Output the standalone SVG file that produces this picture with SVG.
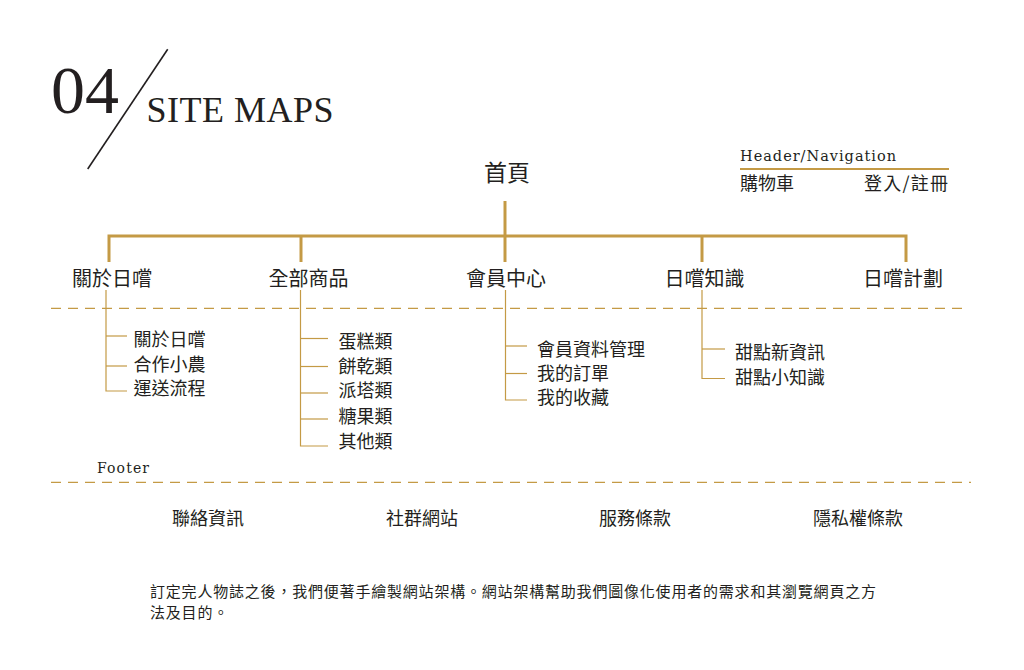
<svg xmlns="http://www.w3.org/2000/svg" width="1024" height="670" viewBox="0 0 1024 670">
<style>
.serif{font-family:"Liberation Serif","Times New Roman",serif;fill:#231f20}
.serif2{font-family:"DejaVu Serif","Liberation Serif",serif;fill:#231f20}
.cjk{font-family:"Noto Sans CJK TC","Noto Sans CJK SC",sans-serif;fill:#231f20}
.l1{font-size:20px;text-anchor:middle}
.l2{font-size:18px}
.thick{stroke:#c49a45;stroke-width:3;fill:none}
.thin{stroke:#c49a45;stroke-width:1.2;fill:none}
.dash{stroke:#c49a45;stroke-width:1.2;stroke-dasharray:10 7;fill:none}
</style>
<rect width="1024" height="670" fill="#ffffff"/>
<g id="title">
<text class="serif" x="51" y="113" font-size="68">04</text>
<line x1="167.7" y1="49.3" x2="87.7" y2="169" stroke="#231f20" stroke-width="1.6"/>
<text class="serif" x="146.5" y="121.5" font-size="36" letter-spacing="0.5">SITE MAPS</text>
</g>
<g id="header-nav">
<text class="serif2" x="740" y="160.5" font-size="14.5" textLength="156" lengthAdjust="spacing">Header/Navigation</text>
<line x1="740" y1="169" x2="949" y2="169" stroke="#c49a45" stroke-width="2"/>
<text class="cjk" x="740" y="189.5" font-size="18">購物車</text>
<text class="cjk" x="864" y="189.5" font-size="18" textLength="84" lengthAdjust="spacing">登入/註冊</text>
</g>
<g id="connectors">
<line class="thick" x1="505" y1="201" x2="505" y2="236"/>
<polyline class="thick" points="109,262 109,236 906,236 906,262"/>
<line class="thick" x1="301" y1="236" x2="301" y2="262"/>
<line class="thick" x1="505" y1="236" x2="505" y2="262"/>
<line class="thick" x1="702" y1="236" x2="702" y2="262"/>
<line class="dash" x1="51" y1="308.3" x2="962" y2="308.3"/>
<line class="dash" x1="51" y1="482.3" x2="971" y2="482.3"/>
<polyline class="thin" points="106,290 106,391 127,391"/>
<line class="thin" x1="106" y1="336" x2="127" y2="336"/>
<line class="thin" x1="106" y1="366" x2="127" y2="366"/>
<polyline class="thin" points="300.5,290 300.5,446 328,446"/>
<line class="thin" x1="300.5" y1="338.5" x2="328" y2="338.5"/>
<line class="thin" x1="300.5" y1="366.5" x2="328" y2="366.5"/>
<line class="thin" x1="300.5" y1="393" x2="328" y2="393"/>
<line class="thin" x1="300.5" y1="419" x2="328" y2="419"/>
<polyline class="thin" points="505.5,290 505.5,400 527,400"/>
<line class="thin" x1="505.5" y1="346" x2="527" y2="346"/>
<line class="thin" x1="505.5" y1="373.5" x2="527" y2="373.5"/>
<polyline class="thin" points="702,290 702,378.5 725,378.5"/>
<line class="thin" x1="702" y1="349" x2="725" y2="349"/>
</g>
<g id="home"><text class="cjk" x="507" y="181" font-size="23" text-anchor="middle">首頁</text></g>
<g id="about">
<text class="cjk l1" x="112" y="285.5">關於日嚐</text>
<text class="cjk l2" x="133.5" y="345.5">關於日嚐</text>
<text class="cjk l2" x="133.5" y="370.5">合作小農</text>
<text class="cjk l2" x="133.5" y="394.5">運送流程</text>
</g>
<g id="products">
<text class="cjk l1" x="308.5" y="285.5">全部商品</text>
<text class="cjk l2" x="338.5" y="347.5">蛋糕類</text>
<text class="cjk l2" x="338.5" y="372.5">餅乾類</text>
<text class="cjk l2" x="338.5" y="397.3">派塔類</text>
<text class="cjk l2" x="338.5" y="422.5">糖果類</text>
<text class="cjk l2" x="338.5" y="447.5">其他類</text>
</g>
<g id="member">
<text class="cjk l1" x="506" y="285.5">會員中心</text>
<text class="cjk l2" x="537" y="356">會員資料管理</text>
<text class="cjk l2" x="537" y="380">我的訂單</text>
<text class="cjk l2" x="537" y="404">我的收藏</text>
</g>
<g id="knowledge">
<text class="cjk l1" x="704.5" y="285.5">日嚐知識</text>
<text class="cjk l2" x="735" y="358.5">甜點新資訊</text>
<text class="cjk l2" x="735" y="383.5">甜點小知識</text>
</g>
<g id="plan"><text class="cjk l1" x="903" y="285.5">日嚐計劃</text></g>
<g id="footer">
<text class="serif2" x="97" y="473.3" font-size="14" textLength="52" lengthAdjust="spacing">Footer</text>
<text class="cjk l2" x="172" y="525">聯絡資訊</text>
<text class="cjk l2" x="386" y="525">社群網站</text>
<text class="cjk l2" x="599" y="525">服務條款</text>
<text class="cjk l2" x="813" y="525">隱私權條款</text>
</g>
<g id="description">
<text class="cjk" x="150" y="596.7" font-size="15" letter-spacing="0.8">訂定完人物誌之後，我們便著手繪製網站架構。網站架構幫助我們圖像化使用者的需求和其瀏覽網頁之方</text>
<text class="cjk" x="150" y="617.7" font-size="15" letter-spacing="0.8">法及目的。</text>
</g>
</svg>
